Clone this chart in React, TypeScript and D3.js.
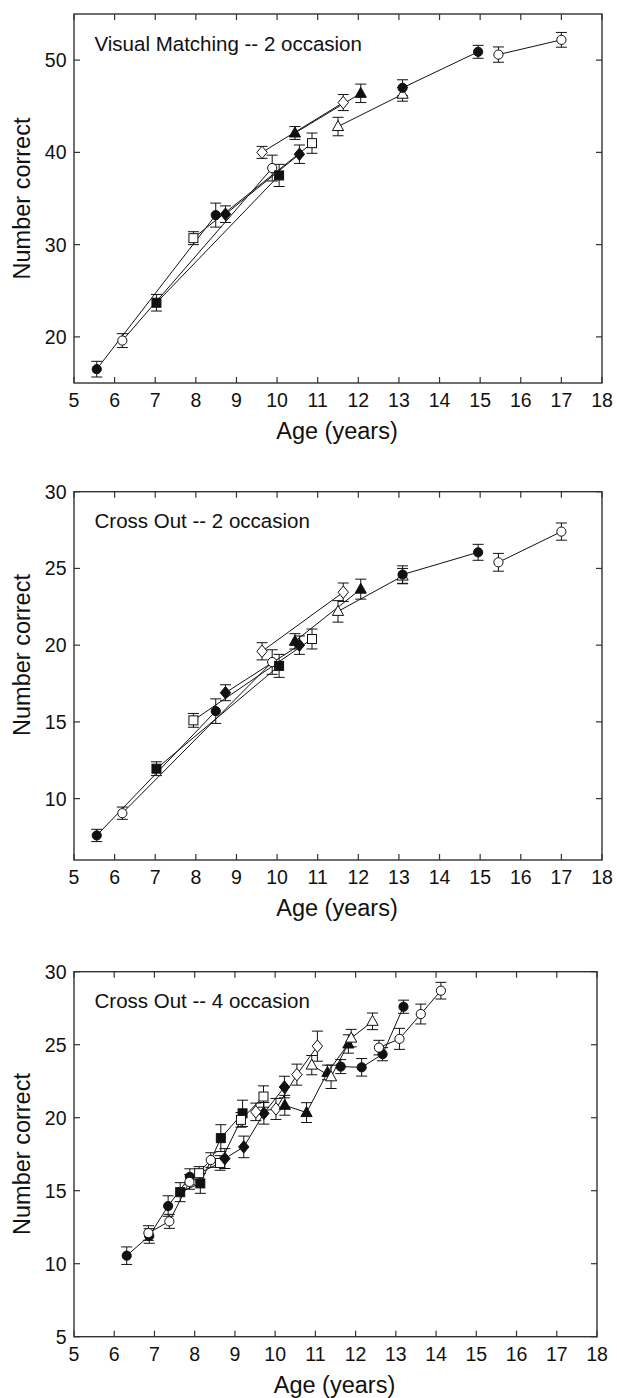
import React from "react";
import * as d3 from "d3";

// ---------- DATA ----------
const xTicks = [5, 6, 7, 8, 9, 10, 11, 12, 13, 14, 15, 16, 17, 18];

// cohort marker styles (shape, filled)
const cohortShape = ["circle", "circle", "square", "square", "diamond", "diamond", "triangle", "triangle", "circle", "circle"];
const cohortFilled = [true, false, true, false, true, false, true, false, true, false];

// 2-occasion design: ages at each occasion per cohort
const twoOccAge = [
  [5.56, 8.49],
  [6.19, 9.88],
  [7.03, 10.05],
  [7.94, 10.86],
  [8.73, 10.55],
  [9.63, 11.63],
  [10.44, 12.06],
  [11.5, 13.09],
  [13.09, 14.95],
  [15.45, 17.0],
];

// Visual Matching -- 2 occasion
const vm2Mean = [
  [16.5, 33.2],
  [19.6, 38.3],
  [23.7, 37.5],
  [30.7, 41.0],
  [33.3, 39.8],
  [40.0, 45.4],
  [42.1, 46.4],
  [42.8, 46.3],
  [47.0, 50.9],
  [50.6, 52.2],
];
const vm2Err = [
  [0.85, 1.3],
  [0.75, 1.4],
  [0.9, 1.2],
  [0.7, 1.1],
  [0.9, 1.0],
  [0.65, 0.87],
  [0.7, 1.0],
  [1.0, 0.75],
  [0.87, 0.7],
  [0.83, 0.8],
];
const vm2YTicks = [20, 30, 40, 50];

// Cross Out -- 2 occasion
const co2Mean = [
  [7.6, 15.7],
  [9.05, 18.9],
  [11.95, 18.65],
  [15.1, 20.4],
  [16.9, 20.0],
  [19.6, 23.45],
  [20.25, 23.65],
  [22.2, 24.5],
  [24.6, 26.05],
  [25.4, 27.4],
];
const co2Err = [
  [0.4, 0.8],
  [0.4, 0.8],
  [0.45, 0.75],
  [0.45, 0.65],
  [0.52, 0.6],
  [0.56, 0.6],
  [0.5, 0.65],
  [0.7, 0.5],
  [0.57, 0.52],
  [0.58, 0.56],
];
const co2YTicks = [10, 15, 20, 25, 30];

// Cross Out -- 4 occasion
const co4Age = [
  [6.31, 6.87, 7.34, 7.88],
  [6.85, 7.37, 7.87, 8.4],
  [7.64, 8.14, 8.65, 9.19],
  [8.11, 8.63, 9.15, 9.71],
  [8.75, 9.22, 9.72, 10.23],
  [9.52, 10.02, 10.54, 11.05],
  [10.24, 10.78, 11.3, 11.82],
  [10.91, 11.39, 11.89, 12.42],
  [11.63, 12.15, 12.67, 13.19],
  [12.58, 13.09, 13.62, 14.12],
];
const co4Mean = [
  [10.55, 11.9, 13.95, 15.95],
  [12.1, 12.9, 15.6, 17.1],
  [14.9, 15.5, 18.6, 20.3],
  [16.2, 16.9, 19.85, 21.45],
  [17.2, 18.0, 20.3, 22.1],
  [20.4, 20.6, 22.95, 24.9],
  [20.85, 20.35, 23.1, 25.05],
  [23.6, 22.8, 25.45, 26.6],
  [23.5, 23.45, 24.35, 27.6],
  [24.8, 25.4, 27.1, 28.7],
];
const co4Err = [
  [0.6, 0.5, 0.7, 0.55],
  [0.5, 0.48, 0.5, 0.5],
  [0.65, 0.68, 0.92, 0.9],
  [0.45, 0.5, 0.5, 0.73],
  [0.68, 0.74, 0.74, 0.74],
  [0.6, 0.72, 0.72, 1.03],
  [0.68, 0.68, 0.5, 0.63],
  [0.66, 0.8, 0.6, 0.57],
  [0.48, 0.6, 0.45, 0.45],
  [0.5, 0.72, 0.68, 0.57],
];
const co4YTicks = [5, 10, 15, 20, 25, 30];

const panelTitles = ["Visual Matching -- 2 occasion", "Cross Out -- 2 occasion", "Cross Out -- 4 occasion"];
const xLabel = "Age (years)";
const yLabel = "Number correct";

// ---------- LAYOUT ----------
const FONT = "'Liberation Sans', Arial, Helvetica, sans-serif";
const panels = [
  { title: panelTitles[0], ages: twoOccAge, means: vm2Mean, errs: vm2Err, yDomain: [15, 55], yTicks: vm2YTicks,
    left: 74, right: 602, top: 14, bottom: 383, yTitleCenter: 198.5 },
  { title: panelTitles[1], ages: twoOccAge, means: co2Mean, errs: co2Err, yDomain: [6, 30], yTicks: co2YTicks,
    left: 74, right: 602, top: 491.7, bottom: 860, yTitleCenter: 655 },
  { title: panelTitles[2], ages: co4Age, means: co4Mean, errs: co4Err, yDomain: [5, 30], yTicks: co4YTicks,
    left: 74, right: 597, top: 971.7, bottom: 1336.7, yTitleCenter: 1154 },
];

function Marker({ shape, filled, x, y }: { shape: string; filled: boolean; x: number; y: number }) {
  const fill = filled ? "#111" : "#fff";
  const common = { fill, stroke: "#111", strokeWidth: 1 };
  if (shape === "circle") return <circle cx={x} cy={y} r={4.6} {...common} />;
  if (shape === "square") return <rect x={x - 4.5} y={y - 4.5} width={9} height={9} {...common} />;
  if (shape === "diamond")
    return <path d={`M${x},${y - 6.2}L${x + 5.2},${y}L${x},${y + 6.2}L${x - 5.2},${y}Z`} {...common} />;
  return <path d={`M${x},${y - 6}L${x + 5.6},${y + 4}L${x - 5.6},${y + 4}Z`} {...common} />;
}

function Panel({ p }: { p: any }) {
  const x = d3.scaleLinear().domain([5, 18]).range([p.left, p.right]);
  const y = d3.scaleLinear().domain(p.yDomain).range([p.bottom, p.top]);
  const line = d3.line<[number, number]>().x((d) => x(d[0])).y((d) => y(d[1]));
  const tl = 6;
  const cap = 5.5;
  return (
    <g>
      {p.ages.map((ages: number[], c: number) => (
        <path key={"l" + c} d={line(ages.map((a, i) => [a, p.means[c][i]]) as any) || ""} fill="none" stroke="#111" strokeWidth={1} />
      ))}
      {p.ages.map((ages: number[], c: number) =>
        ages.map((a, i) => {
          const cx = x(a);
          const y1 = y(p.means[c][i] + p.errs[c][i]);
          const y2 = y(p.means[c][i] - p.errs[c][i]);
          return (
            <g key={"e" + c + "-" + i} stroke="#111" strokeWidth={1}>
              <line x1={cx} x2={cx} y1={y1} y2={y2} />
              <line x1={cx - cap} x2={cx + cap} y1={y1} y2={y1} />
              <line x1={cx - cap} x2={cx + cap} y1={y2} y2={y2} />
            </g>
          );
        })
      )}
      {p.ages.map((ages: number[], c: number) =>
        ages.map((a, i) => (
          <Marker key={"m" + c + "-" + i} shape={cohortShape[c]} filled={cohortFilled[c]} x={x(a)} y={y(p.means[c][i])} />
        ))
      )}
      <rect x={p.left} y={p.top} width={p.right - p.left} height={p.bottom - p.top} fill="none" stroke="#333" strokeWidth={1.4} />
      {xTicks.map((t) => (
        <g key={"xt" + t} stroke="#333" strokeWidth={1.2}>
          <line x1={x(t)} x2={x(t)} y1={p.bottom} y2={p.bottom - tl} />
          <line x1={x(t)} x2={x(t)} y1={p.top} y2={p.top + tl} />
        </g>
      ))}
      {xTicks.map((t) => (
        <text key={"xl" + t} x={x(t)} y={p.bottom + 24} textAnchor="middle" fontSize={19.5} fontFamily={FONT} fill="#111">
          {t}
        </text>
      ))}
      {p.yTicks.map((t: number) => (
        <g key={"yt" + t} stroke="#333" strokeWidth={1.2}>
          <line x1={p.left} x2={p.left + tl} y1={y(t)} y2={y(t)} />
          <line x1={p.right} x2={p.right - tl} y1={y(t)} y2={y(t)} />
        </g>
      ))}
      {p.yTicks.map((t: number) => (
        <text key={"yl" + t} x={66.5} y={y(t)} dy="0.36em" textAnchor="end" fontSize={19.5} fontFamily={FONT} fill="#111">
          {t}
        </text>
      ))}
      <text x={94.5} y={p.top + 36.5} fontSize={20.5} fontFamily={FONT} fill="#111">
        {p.title}
      </text>
      <text x={(p.left + p.right) / 2 - 1} y={p.bottom + 56} textAnchor="middle" fontSize={23.5} fontFamily={FONT} fill="#111">
        {xLabel}
      </text>
      <text
        transform={`translate(29.5,${p.yTitleCenter}) rotate(-90)`}
        textAnchor="middle"
        fontSize={23.5}
        fontFamily={FONT}
        fill="#111"
      >
        {yLabel}
      </text>
    </g>
  );
}

export default function App() {
  return (
    <svg
      width={617}
      height={1398}
      style={{ position: "absolute", left: 0, top: 0, display: "block", background: "#fff" }}
    >
      <rect x={0} y={0} width={617} height={1398} fill="#fff" />
      {panels.map((p, i) => (
        <Panel key={i} p={p} />
      ))}
    </svg>
  );
}
